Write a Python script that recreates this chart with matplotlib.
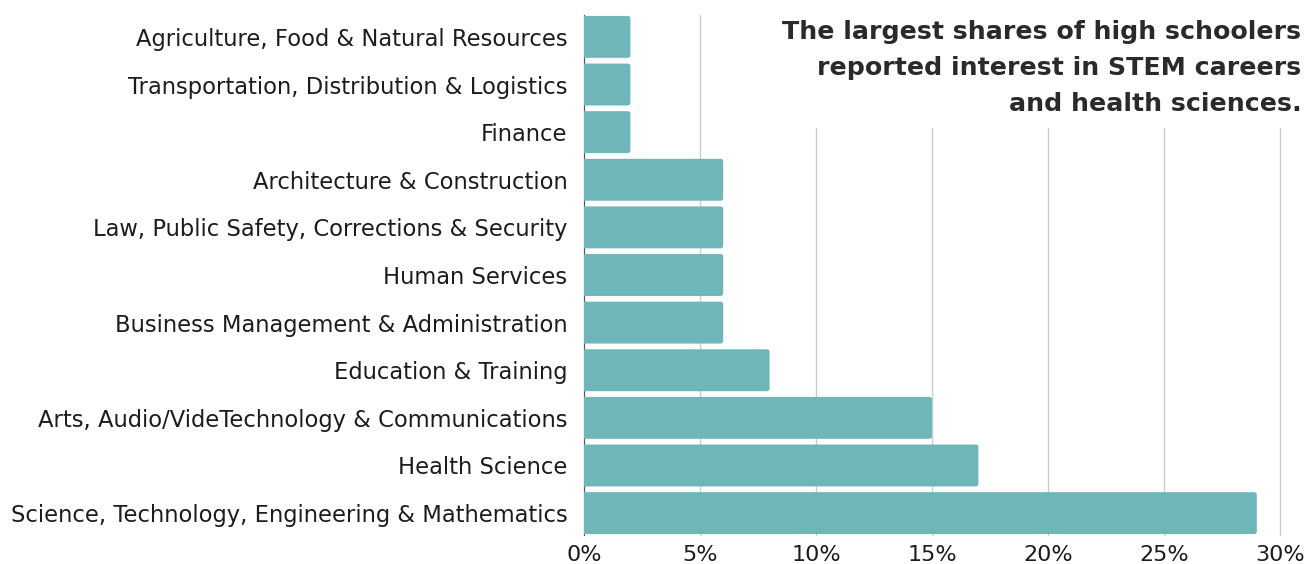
import numpy as np
import matplotlib.pyplot as plt
from matplotlib.patches import FancyBboxPatch
from matplotlib.ticker import FuncFormatter

# data, top to bottom as shown in the chart
categories = [
    "Agriculture, Food & Natural Resources",
    "Transportation, Distribution & Logistics",
    "Finance",
    "Architecture & Construction",
    "Law, Public Safety, Corrections & Security",
    "Human Services",
    "Business Management & Administration",
    "Education & Training",
    "Arts, Audio/VideTechnology & Communications",
    "Health Science",
    "Science, Technology, Engineering & Mathematics",
]
shares = [2, 2, 2, 6, 6, 6, 6, 8, 15, 17, 29]
xticks = [0, 5, 10, 15, 20, 25, 30]
title = ("The largest shares of high schoolers\n"
         "reported interest in STEM careers\n"
         "and health sciences.")

bar_color = "#6fb6b9"
text_color = "#1c1c1c"
plt.rcParams['font.family'] = ['DejaVu Sans']

fig = plt.figure(figsize=(13.04, 5.64), dpi=100)
ax = fig.add_axes([584 / 1304, 1 - 535 / 564, (1280 - 584) / 1304, 520 / 564])

n = len(categories)
ypos = np.arange(n)[::-1]
h = 0.88
# rounded right ends; left rounding is clipped away at x=0
for y, v in zip(ypos, shares):
    p = FancyBboxPatch((-1, y - h / 2), v + 1, h,
                       boxstyle="round,pad=0,rounding_size=0.12",
                       mutation_aspect=1 / 2.45,
                       facecolor=bar_color, edgecolor="none", zorder=2)
    ax.add_patch(p)

ax.set_xlim(0, 30)
ax.set_ylim(-0.46, n - 1 + 0.46)
ax.set_yticks(ypos)
ax.set_yticklabels(categories, fontsize=16.3, color=text_color)
ax.set_xticks(xticks)
ax.xaxis.set_major_formatter(FuncFormatter(lambda v, _: f"{v:.0f}%"))
ax.tick_params(axis='x', length=0, pad=7, labelsize=16, labelcolor=text_color)
ax.tick_params(axis='y', length=0, pad=12)
ax.grid(axis='x', color="#cccccc", linewidth=1, zorder=0)
for gl in ax.get_xgridlines():
    gl.set_clip_on(False)
ax.set_axisbelow(True)
for s in ['top', 'right', 'bottom']:
    ax.spines[s].set_visible(False)
ax.spines['left'].set_color("#555555")
ax.spines['left'].set_linewidth(0.8)
ax.spines['left'].set_zorder(1)

fig.text(0.998, 1 - 20 / 564, title, ha='right', va='top', fontsize=18.2,
         fontweight='bold', color="#2a2a2a", linespacing=1.62,
         bbox=dict(facecolor='white', edgecolor='none', pad=9))

fig.savefig("out.png", dpi=100)
